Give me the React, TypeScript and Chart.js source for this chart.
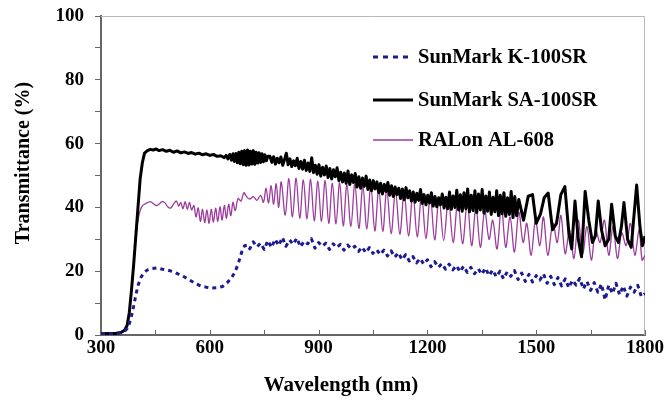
import React, { useEffect, useRef } from 'react';
import { Chart, registerables } from 'chart.js';

Chart.register(...registerables);

const SERIES_NAMES = ['SunMark K-100SR', 'SunMark SA-100SR', 'RALon AL-608'];
const SERIES_COLORS = ['#1c1c8e', '#000000', '#9c3c9c'];
const X_LABELS = [300, 600, 900, 1200, 1500, 1800];
const Y_LABELS = [0, 20, 40, 60, 80, 100];
const X_TITLE = 'Wavelength (nm)';
const Y_TITLE = 'Transmittance (%)';

// [wavelength nm, transmittance %]
const K100SR: [number, number][] = [
  [300, 0.4], [320, 0.4], [340, 0.5], [355, 0.7], [365, 1.2], [372, 2], [378, 3.5], [384, 6], [390, 9],
  [396, 12.5], [402, 15.5], [410, 18], [418, 19.5], [428, 20.4], [440, 20.8], [455, 21], [470, 20.6],
  [485, 20.3], [500, 19.8], [515, 19.0], [530, 18.2], [545, 17.2], [560, 16.2], [575, 15.4], [590, 15.0],
  [605, 14.7], [620, 14.8], [635, 15.2], [648, 16.4], [660, 18.0], [670, 19.8], [680, 23.0], [688, 26],
  [696, 28], [704, 28.2],
  [710, 27.0], [720, 29.2], [730, 27.6], [740, 28.8], [750, 26.8], [760, 29.6], [770, 27.4], [780, 30.0],
  [790, 28.0], [800, 30.6], [810, 27.8], [820, 29.8], [830, 28.4], [840, 30.4], [850, 27.6], [860, 29.4],
  [870, 28.6], [880, 30.2], [890, 27.2], [900, 29.0], [910, 27.8], [920, 28.8], [930, 26.8], [940, 28.6],
  [950, 27.4], [960, 28.4], [970, 26.6], [980, 28.2], [990, 27.0], [1000, 27.8], [1010, 26.2], [1020, 27.6],
  [1030, 25.8], [1040, 27.4], [1050, 25.6], [1060, 26.8], [1070, 25.2], [1080, 26.6], [1090, 24.8],
  [1100, 26.4], [1110, 24.4], [1120, 25.8], [1130, 23.6], [1140, 25.2], [1150, 23.2], [1160, 24.6],
  [1170, 22.6], [1180, 24.0], [1190, 22.2], [1200, 23.6], [1210, 21.4], [1220, 23.0], [1230, 21.2],
  [1240, 22.4], [1250, 20.6], [1260, 22.2], [1270, 20.4], [1280, 21.8], [1290, 19.8], [1300, 21.6],
  [1310, 19.6], [1320, 21.2], [1330, 19.2], [1340, 20.8], [1350, 19.0], [1360, 21.0], [1370, 18.6],
  [1380, 20.4], [1390, 18.2], [1400, 20.0], [1410, 17.6], [1420, 19.8], [1430, 18.4], [1440, 20.2],
  [1450, 17.4], [1460, 19.4], [1470, 16.8], [1480, 19.0], [1490, 16.6], [1500, 18.6], [1510, 17.2],
  [1520, 19.2], [1530, 16.2], [1540, 18.4], [1550, 15.8], [1560, 18.0], [1570, 15.4], [1580, 17.6],
  [1590, 14.8], [1600, 17.2], [1610, 15.6], [1620, 17.8], [1630, 14.4], [1640, 16.8], [1650, 14.0],
  [1660, 16.4], [1670, 13.4], [1680, 16.0], [1690, 11.0], [1700, 15.6], [1710, 13.0], [1720, 16.2],
  [1730, 12.6], [1740, 15.4], [1750, 12.2], [1760, 15.0], [1770, 13.4], [1780, 15.6], [1790, 12.0],
  [1800, 13.0],
];

const SA100SR: [number, number][] = [
  [300, 0.4], [320, 0.5], [340, 0.5], [355, 0.8], [365, 1.5], [372, 3], [378, 7], [384, 14], [390, 22],
  [396, 31], [402, 40], [408, 49], [414, 54], [420, 57], [428, 57.8], [436, 58.2], [444, 58], [452, 58.3],
  [460, 57.8], [470, 58.1], [480, 57.6], [490, 57.9], [500, 57.3], [510, 57.7], [520, 57.1], [530, 57.4],
  [540, 56.9], [550, 57.2], [560, 56.7], [570, 57.0], [580, 56.5], [590, 56.8], [600, 56.3], [610, 56.6],
  [620, 56.0], [630, 56.2], [640, 55.6], [645, 56.3], [650, 55.2], [655, 56.6], [660, 54.8], [664, 56.8],
  [668, 54.4],
  [672, 56.9], [676, 54.0], [680, 57.3], [684, 53.7], [688, 57.6], [692, 53.4], [696, 57.8], [700, 53.2],
  [704, 58.0], [708, 53.3], [712, 57.6], [716, 53.6], [720, 57.8], [724, 53.5], [728, 57.3], [732, 53.9],
  [736, 57.1], [740, 54.1], [744, 56.8], [748, 54.3], [752, 56.5], [756, 54.6], [760, 56.0],
  [766, 56.0], [771, 54.1], [776, 55.9], [781, 53.6], [786, 55.4], [791, 54.0], [796, 55.8], [801, 53.2],
  [806, 55.0], [811, 57.0], [816, 53.4], [821, 55.2], [826, 52.8], [831, 54.6], [836, 53.1], [841, 55.4],
  [846, 52.2], [851, 54.4], [856, 52.0], [861, 54.8], [866, 51.6], [871, 53.9], [876, 51.3], [881, 55.6],
  [886, 50.9], [891, 53.2], [896, 50.4], [901, 53.4], [906, 49.8], [911, 52.6], [916, 50.2], [921, 53.0],
  [926, 49.4], [931, 52.2], [936, 48.9], [941, 51.8], [946, 49.6], [951, 52.4], [956, 48.4], [961, 51.0],
  [966, 48.0], [971, 50.8], [976, 47.6], [981, 51.4], [986, 47.2], [991, 50.2], [996, 47.8], [1001, 50.6],
  [1006, 46.4], [1011, 49.6], [1016, 46.0], [1021, 49.2], [1026, 46.6], [1031, 49.8], [1036, 45.6],
  [1041, 48.6], [1046, 45.2], [1051, 48.4], [1056, 45.8], [1061, 48.0], [1066, 44.6], [1071, 47.6],
  [1076, 44.2], [1081, 47.2], [1086, 45.0], [1091, 47.8], [1096, 43.8], [1101, 46.8], [1106, 43.4],
  [1111, 46.4], [1116, 44.0], [1121, 46.0], [1126, 42.8], [1131, 45.8], [1136, 42.4], [1141, 46.2],
  [1146, 43.0], [1151, 45.2], [1156, 42.0], [1161, 44.8], [1166, 41.6], [1171, 44.4], [1176, 42.2],
  [1181, 45.6], [1186, 41.2], [1191, 44.0], [1196, 40.8], [1201, 43.8], [1206, 41.4], [1211, 44.6],
  [1216, 40.4], [1221, 43.4], [1226, 40.2], [1231, 43.0], [1236, 40.8], [1241, 44.2], [1246, 39.8],
  [1251, 43.2], [1256, 39.6], [1261, 44.8], [1266, 39.4], [1271, 43.6], [1276, 40.0], [1281, 45.4],
  [1286, 39.2], [1291, 44.0], [1296, 38.8], [1301, 44.6], [1306, 39.6], [1311, 45.8], [1316, 38.6],
  [1321, 43.8], [1326, 39.0], [1331, 45.2], [1336, 38.4], [1341, 44.2], [1346, 39.2], [1351, 45.6],
  [1356, 38.2], [1361, 43.6], [1366, 38.8], [1371, 44.8], [1376, 37.8], [1381, 43.2], [1386, 38.6],
  [1391, 45.2], [1396, 37.4], [1401, 43.8], [1406, 38.0], [1411, 44.6], [1416, 37.2], [1421, 43.0],
  [1426, 37.8], [1431, 45.0], [1436, 36.8], [1441, 43.4], [1446, 37.4],
  [1452, 42.5], [1465, 36], [1478, 43.5], [1490, 44], [1500, 35], [1512, 38], [1522, 43], [1533, 44.5],
  [1545, 33], [1556, 35], [1568, 44], [1579, 46.5], [1590, 32], [1598, 27], [1607, 42], [1616, 30],
  [1625, 24.5], [1635, 45], [1645, 36], [1655, 29], [1663, 31], [1671, 42], [1680, 33], [1690, 28],
  [1700, 30], [1708, 41], [1718, 31], [1727, 29], [1735, 34], [1742, 41.5], [1752, 30], [1762, 27.5],
  [1770, 38], [1777, 47], [1786, 34], [1793, 28], [1800, 31],
];

const AL608: [number, number][] = [
  [300, 0.4], [320, 0.5], [340, 0.5], [355, 0.8], [365, 1.5], [372, 3], [378, 7], [384, 14], [390, 22],
  [396, 30], [402, 36], [408, 39], [414, 40.5], [420, 41], [428, 41.5], [436, 41.8], [444, 41.2],
  [452, 40.6], [460, 41.0], [468, 41.8], [476, 41.5], [484, 40.2], [492, 39.8], [500, 41.0], [508, 42.0],
  [514, 40.4], [520, 41.5], [526, 39.6], [532, 41.8], [538, 39.4], [544, 41.6], [550, 39.2], [556, 40.6],
  [562, 37], [568, 39.8], [574, 35.6], [580, 39.4], [586, 35.2], [592, 39.2], [598, 35.0], [604, 39.4],
  [610, 35.4], [616, 39.8], [622, 35.6], [628, 40.2], [634, 36], [640, 40.6], [646, 36.6], [652, 41.0],
  [658, 37.4], [664, 41.6], [670, 39], [678, 42.8], [686, 42], [694, 44.6], [700, 43.6], [710, 42.6],
  [720, 43.4], [730, 42.2], [740, 43.8], [748, 41.6], [755, 46], [762, 41.4], [769, 46.8], [776, 41],
  [783, 47.4], [790, 40], [797, 48],
  [808, 37.6], [818, 49], [828, 37], [838, 49.2], [848, 36.6], [858, 48.6], [868, 36.4], [878, 48.8],
  [888, 35.8], [898, 48.2], [908, 35.6], [918, 48.4], [928, 35.0], [938, 47.6], [948, 34.8], [958, 47.8],
  [968, 34.2], [978, 47.2], [989, 34.0], [1000, 47.4], [1011, 33.4], [1022, 46.6], [1033, 33.2],
  [1044, 46.8], [1055, 32.6], [1066, 45.8], [1077, 32.4], [1088, 45.6], [1100, 31.8], [1112, 45.2],
  [1124, 31.6], [1136, 44.6], [1148, 31.0], [1160, 44.4], [1172, 30.8], [1184, 43.8], [1196, 30.2],
  [1208, 43.6], [1220, 29.8], [1232, 42.8], [1245, 29.6], [1258, 42.6], [1271, 29.0], [1284, 42.0],
  [1297, 28.6],
  [1310, 41.5], [1322, 28], [1334, 40], [1346, 27.5], [1358, 39], [1370, 30], [1380, 36], [1392, 27],
  [1404, 40], [1416, 27.5], [1428, 37], [1440, 26], [1452, 38.5], [1464, 29], [1474, 35], [1486, 25],
  [1498, 36], [1510, 28], [1520, 37], [1532, 25], [1546, 35], [1558, 29], [1568, 37.5], [1580, 25.5],
  [1592, 33], [1604, 24], [1616, 36], [1628, 25.5], [1640, 34], [1652, 23.5], [1664, 33], [1676, 29],
  [1688, 36], [1700, 25], [1712, 34], [1724, 24], [1736, 32], [1748, 28], [1760, 35], [1772, 25],
  [1784, 33], [1792, 23.5], [1800, 25],
];

const SERIES_DATA = [K100SR, SA100SR, AL608];
const SERIES_WIDTHS = [3, 3, 1.3];
const SERIES_TENSION = [0, 0, 0.35];
const SERIES_DASHES: number[][] = [[4, 4], [], []];

const FONT = '"Liberation Serif", "Times New Roman", serif';

const overlayPlugin = {
  id: 'overlay',
  beforeDatasetsDraw(chart: any) {
    const { ctx, chartArea } = chart;
    ctx.save();
    ctx.strokeStyle = '#b8b8b8';
    ctx.lineWidth = 1;
    ctx.beginPath();
    ctx.moveTo(chartArea.left, chartArea.top + 0.5);
    ctx.lineTo(chartArea.right - 0.5, chartArea.top + 0.5);
    ctx.lineTo(chartArea.right - 0.5, chartArea.bottom);
    ctx.stroke();
    const xs = chart.scales.x;
    ctx.strokeStyle = '#666';
    ctx.lineWidth = 1;
    xs.ticks.forEach((t: any) => {
      const px = Math.round(xs.getPixelForValue(t.value)) + 0.5;
      ctx.beginPath();
      ctx.moveTo(px, chartArea.bottom);
      ctx.lineTo(px, chartArea.bottom - 5);
      ctx.stroke();
    });
    ctx.restore();
  },
  afterDraw(chart: any) {
    const { ctx, chartArea } = chart;
    ctx.save();
    ctx.fillStyle = '#000';
    ctx.font = `bold 21px ${FONT}`;
    ctx.textAlign = 'center';
    ctx.textBaseline = 'middle';
    ctx.fillText(X_TITLE, (chartArea.left + chartArea.right) / 2 - 32, 386);
    ctx.font = `bold 20px ${FONT}`;
    ctx.translate(24, 163);
    ctx.rotate(-Math.PI / 2);
    ctx.fillText(Y_TITLE, 0, 0);
    ctx.restore();

    ctx.save();
    const legendY = [57, 100, 140];
    SERIES_NAMES.forEach((name, i) => {
      const y = legendY[i];
      ctx.strokeStyle = SERIES_COLORS[i];
      ctx.lineWidth = i === 2 ? 1.5 : 3;
      ctx.setLineDash(SERIES_DASHES[i].length ? [5, 5] : []);
      ctx.beginPath();
      ctx.moveTo(373, y);
      ctx.lineTo(413, y);
      ctx.stroke();
      ctx.setLineDash([]);
      ctx.fillStyle = '#000';
      ctx.font = `bold 20.5px ${FONT}`;
      ctx.textAlign = 'left';
      ctx.textBaseline = 'middle';
      ctx.fillText(name, 418, y + 1);
    });
    ctx.restore();
  },
};

export default function App() {
  const ref = useRef<HTMLCanvasElement>(null);
  useEffect(() => {
    if (!ref.current) return;
    const chart = new Chart(ref.current, {
      type: 'line',
      data: {
        datasets: SERIES_NAMES.map((name, i) => ({
          label: name,
          data: SERIES_DATA[i].map(([x, y]) => ({ x, y })),
          borderColor: SERIES_COLORS[i],
          backgroundColor: SERIES_COLORS[i],
          borderWidth: SERIES_WIDTHS[i],
          borderDash: SERIES_DASHES[i],
          pointRadius: 0,
          tension: SERIES_TENSION[i],
          fill: false,
          borderJoinStyle: 'round' as const,
        })),
      },
      options: {
        responsive: false,
        animation: false,
        parsing: false as any,
        layout: { padding: { top: 16, right: 22, left: 0, bottom: 0 } },
        plugins: { legend: { display: false }, tooltip: { enabled: false }, title: { display: false } },
        scales: {
          x: {
            type: 'linear',
            min: 300,
            max: 1800,
            afterFit: (s: any) => { s.height = 68; },
            ticks: {
              stepSize: 150,
              autoSkip: false,
              maxRotation: 0,
              padding: 2,
              color: '#000',
              font: { family: FONT, size: 19, weight: 'bold' },
              callback: (v: any) => (X_LABELS.includes(Number(v)) ? String(v) : ''),
            },
            grid: { drawOnChartArea: false, drawTicks: false },
            border: { display: true, color: '#666', width: 2 },
          },
          y: {
            type: 'linear',
            min: 0,
            max: 100,
            afterFit: (s: any) => { s.width = 101; s.paddingTop = 0; s.paddingBottom = 0; },
            ticks: {
              stepSize: 10,
              autoSkip: false,
              padding: 11,
              color: '#000',
              font: { family: FONT, size: 19, weight: 'bold' },
              callback: (v: any) => (Y_LABELS.includes(Number(v)) ? String(v) : ''),
            },
            grid: { drawOnChartArea: false, drawTicks: true, tickLength: 6, color: '#666' },
            border: { display: true, color: '#666', width: 2 },
          },
        },
      },
      plugins: [overlayPlugin],
    });
    return () => chart.destroy();
  }, []);
  return (
    <canvas
      ref={ref}
      width={667}
      height={403}
      style={{ position: 'absolute', left: 0, top: 0, width: 667, height: 403, background: '#fff' }}
    />
  );
}
